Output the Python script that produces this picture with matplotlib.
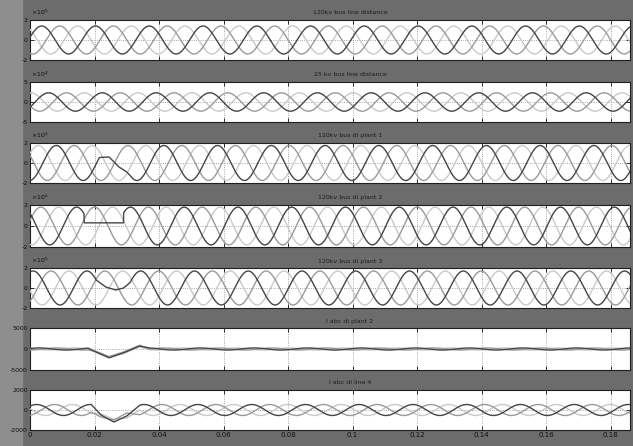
import numpy as np
import matplotlib
matplotlib.use('Agg')
import matplotlib.pyplot as plt
from matplotlib.patches import Rectangle

# scope settings
t_end = 0.186
f_grid = 60.0
xticks = [0, 0.02, 0.04, 0.06, 0.08, 0.1, 0.12, 0.14, 0.16, 0.18]
xtick_labels = ['0', '0.02', '0.04', '0.06', '0.08', '0.1', '0.12', '0.14', '0.16', '0.18']

titles = ['120kv bus line distance', '25 kv bus line distance', '120kv bus di plant 1',
          '120kv bus di plant 2', '120kv bus di plant 3', 'I abc di plant 2', 'I abc di line 4']
exponents = ['5', '4', '5', '5', '5', None, None]
ylims = [2, 5, 2, 2, 2, 5000, 2000]
amps = [1.4, 2.3, 1.75, 1.8, 1.7, 250, 550]
phase0 = [0.2, -0.6, -1.5, 2.4, 1.2, 0.5, 0.8]

# panel pixel rows (top, bottom)
rows = [(20, 60), (82, 122), (143, 183), (205, 247), (268, 308), (328, 370), (390, 430)]

# disturbed segments of the waveforms, read point by point
p3_t = [0.0215, 0.0245, 0.0276, 0.0300, 0.0317]
p3_v = [0.55, 0.6, -0.4, -0.9, -1.5]
p4_t = [0.0168, 0.0290]
p4_v = [0.3, 0.3]
p5_t = [0.0205, 0.0235, 0.0265, 0.0290, 0.0310]
p5_v = [0.8, 0.1, -0.2, 0.0, 0.54]
p6_t = [0.018, 0.021, 0.0245, 0.029, 0.034, 0.037]
p6_a = [211, -900, -2100, -900, 700, 238]
p6_b = [-222, -700, -1800, -700, 900, -52]
p6_c = [11, -1000, -2000, -1100, 500, -185]
p7_t = [0.019, 0.022, 0.026, 0.030, 0.034]
p7_a = [547, -500, -1200, -600, 477]
p7_b = [-221, -700, -1000, -300, -475]
p7_c = [-325, -400, -900, -800, 0]

disturb = {
    (2, 0): (p3_t, p3_v),
    (3, 0): (p4_t, p4_v),
    (4, 0): (p5_t, p5_v),
    (5, 0): (p6_t, p6_a), (5, 1): (p6_t, p6_b), (5, 2): (p6_t, p6_c),
    (6, 0): (p7_t, p7_a), (6, 1): (p7_t, p7_b), (6, 2): (p7_t, p7_c),
}

phase_colors = ['#454545', '#9a9a9a', '#c9c9c9']
phase_shift = [0, -2 * np.pi / 3, 2 * np.pi / 3]

W, H = 633, 446
fig = plt.figure(figsize=(W / 100, H / 100), dpi=100)
fig.patch.set_facecolor('#6c6c6c')
fig.patches.append(Rectangle((0, 0), 22 / W, 1, transform=fig.transFigure,
                             color='#8e8e8e', zorder=-1))

t = np.linspace(0, t_end, 3000)
for i in range(7):
    top, bot = rows[i]
    ax = fig.add_axes([30 / W, 1 - bot / H, 600 / W, (bot - top) / H])
    ax.set_facecolor('white')
    for k in range(3):
        y = amps[i] * np.sin(2 * np.pi * f_grid * t + phase0[i] + phase_shift[k])
        if (i, k) in disturb:
            dt, dv = disturb[(i, k)]
            before = t < dt[0]
            after = t > dt[-1]
            tt = np.concatenate([t[before], dt, t[after]])
            yy = np.concatenate([y[before], dv, y[after]])
        else:
            tt, yy = t, y
        ax.plot(tt, yy, color=phase_colors[k], lw=1.0, zorder=3 - k * 0.1)
    ax.set_xlim(0, t_end)
    ax.set_ylim(-ylims[i], ylims[i])
    ax.set_yticks([-ylims[i], 0, ylims[i]])
    ax.set_yticklabels([str(-ylims[i]), '0', str(ylims[i])])
    ax.set_xticks(xticks)
    ax.grid(True, color='#8a8a8a', ls=':', lw=0.6)
    ax.tick_params(direction='in', top=True, right=True, length=3, width=0.6,
                   labelsize=4.5, pad=1.5, colors='#111111')
    if i < 6:
        ax.set_xticklabels([])
    else:
        ax.set_xticklabels(xtick_labels, fontsize=5)
    for s in ax.spines.values():
        s.set_color('#202020')
        s.set_linewidth(0.8)
    fig.text(350 / W, 1 - (top - 7) / H, titles[i], fontsize=4.5, color='#1c1c1c',
             ha='center', va='center')
    if exponents[i]:
        fig.text(31 / W, 1 - (top - 3) / H, r'$\times10^{%s}$' % exponents[i],
                 fontsize=4.5, color='#111111', ha='left', va='bottom')

fig.savefig('out.png', dpi=100, facecolor=fig.get_facecolor())
